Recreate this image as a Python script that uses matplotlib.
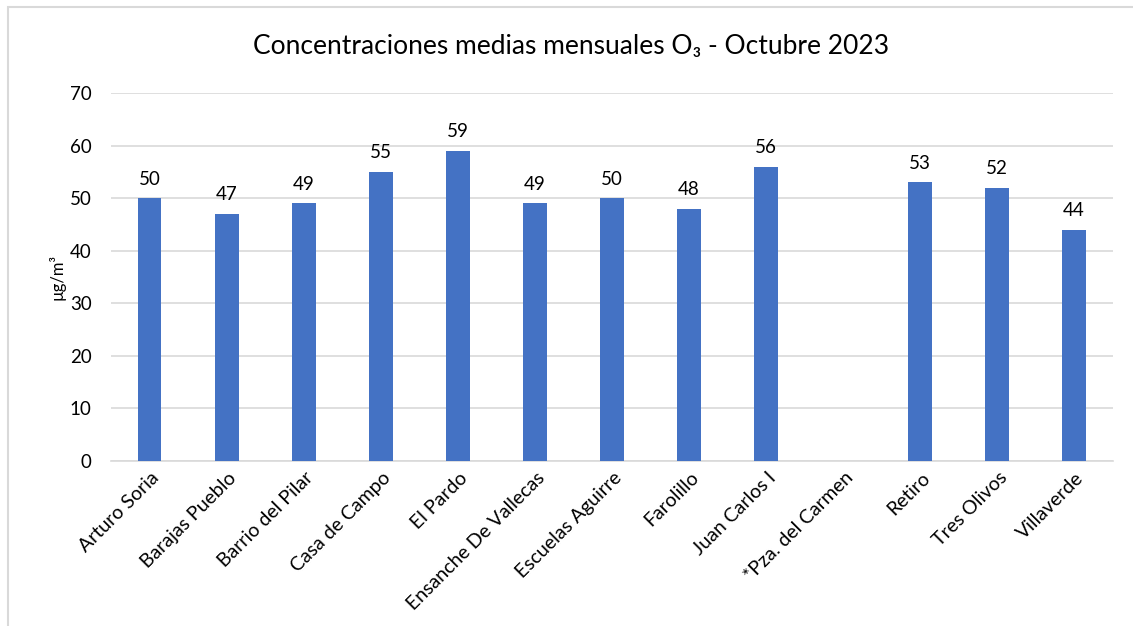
import matplotlib.pyplot as plt
from matplotlib.patches import Rectangle
from matplotlib.transforms import ScaledTranslation

plt.rcParams['font.family'] = ['Lato', 'DejaVu Sans']

stations = ["Arturo Soria", "Barajas Pueblo", "Barrio del Pilar", "Casa de Campo",
            "El Pardo", "Ensanche De Vallecas", "Escuelas Aguirre", "Farolillo",
            "Juan Carlos I", "*Pza. del Carmen", "Retiro", "Tres Olivos", "Villaverde"]
values = [50, 47, 49, 55, 59, 49, 50, 48, 56, None, 53, 52, 44]
yticks = [0, 10, 20, 30, 40, 50, 60, 70]

fig = plt.figure(figsize=(11.33, 6.26), dpi=100)
ax = fig.add_axes([0.098, 0.2636, 0.884, 0.5878])

# border of the chart area (right and bottom run off the picture)
fig.patches.append(Rectangle((8 / 1133, -0.1), 1.2, (626 - 7) / 626 + 0.1,
                             transform=fig.transFigure, fill=False,
                             edgecolor='#d9d9d9', linewidth=1.5))

x = list(range(len(stations)))
for i, v in zip(x, values):
    if v is None:
        continue
    ax.bar(i, v, width=0.31, color='#4472C4', zorder=3)
    ax.text(i, v + 2, str(v), ha='center', va='bottom', fontsize=13.5, color='#000000')

ax.set_ylim(0, 70)
ax.set_xlim(-0.5, len(stations) - 0.5)
ax.set_yticks(yticks)
ax.yaxis.grid(True, color='#d9d9d9', linewidth=1.2, zorder=0)
ax.set_xticks(x)
ax.set_xticklabels([])

# category labels, rotated like Excel's
shift = ScaledTranslation(7 / 100, -14 / 100, fig.dpi_scale_trans)
for i, name in zip(x, stations):
    ax.text(i, 0, name, rotation=45, ha='right', va='center', rotation_mode='anchor',
            fontsize=14, transform=ax.get_xaxis_transform() + shift)

ax.tick_params(axis='both', length=0, colors='#000000')
ax.tick_params(axis='y', pad=14, labelsize=13.5)
for s in ['top', 'right', 'left']:
    ax.spines[s].set_visible(False)
ax.spines['bottom'].set_color('#d9d9d9')
ax.spines['bottom'].set_linewidth(1.2)

ax.set_ylabel("µg/m³", fontsize=12, labelpad=3)
fig.text(0.504, 0.925, "Concentraciones medias mensuales O₃ - Octubre 2023",
         ha='center', va='center', fontsize=19)

fig.savefig("out.png", dpi=100)
